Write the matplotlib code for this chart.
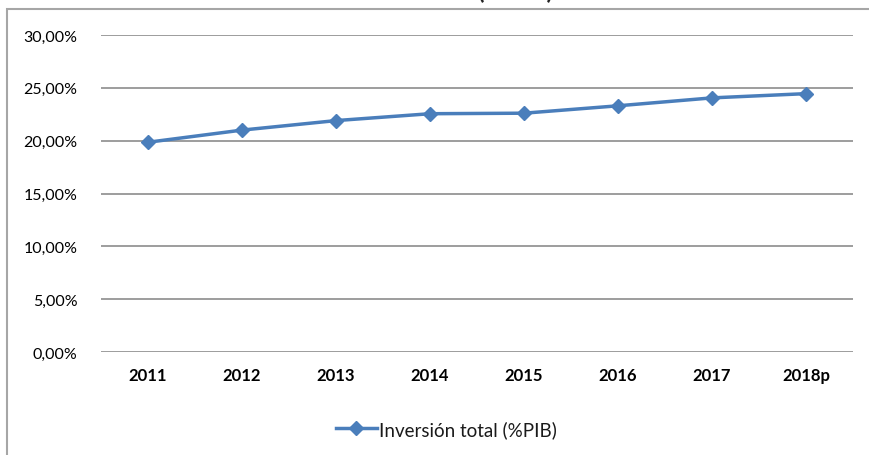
import matplotlib.pyplot as plt
from matplotlib.patches import Rectangle
from matplotlib.ticker import FuncFormatter

years = ['2011', '2012', '2013', '2014', '2015', '2016', '2017', '2018p']
inversion = [19.85, 21.0, 21.9, 22.55, 22.6, 23.3, 24.05, 24.45]
series_name = 'Inversión total (%PIB)'

plt.rcParams['font.family'] = ['Lato', 'DejaVu Sans']

W, H = 869, 456
fig = plt.figure(figsize=(W / 100, H / 100), dpi=100)

# outer chart border (clipped at right/bottom like the screenshot)
fig.patches.append(Rectangle((7 / W, -0.05), 1.0, 1 - 10 / H + 0.05,
                             transform=fig.transFigure, fill=False,
                             edgecolor='#a6a6a6', linewidth=1.5))
# title, almost entirely cut off at the top
fig.text(515 / W, 1 + 1 / H, '(% PIB)', ha='center', va='baseline',
         fontsize=17, fontweight='bold', color='#222222')

ax = fig.add_axes([101 / W, 1 - 353 / H, (853 - 101) / W, (353 - 36) / H])
x = range(len(years))
ax.plot(x, inversion, color='#4a7ebb', linewidth=2.5, marker='D',
        markersize=7, label=series_name)

ax.set_xlim(-0.5, len(years) - 0.5)
ax.set_ylim(0, 30)
ax.set_yticks([0, 5, 10, 15, 20, 25, 30])
ax.yaxis.set_major_formatter(FuncFormatter(lambda v, p: f'{v:.2f}%'.replace('.', ',')))
ax.set_xticks(list(x))
ax.set_xticklabels(years, fontweight='bold')
ax.grid(axis='y', color='#8c8c8c', linewidth=1.2)
ax.set_axisbelow(True)
for s in ax.spines.values():
    s.set_visible(False)
ax.tick_params(length=0, colors='#000000')
ax.tick_params(axis='y', pad=17, labelsize=11.5)
ax.tick_params(axis='x', pad=11, labelsize=12)

fig.legend(loc='center', bbox_to_anchor=(446 / W, 1 - 430 / H), frameon=False,
           fontsize=13.5, handlelength=2.2, handletextpad=0.1,
           labelcolor='#1a1a1a')

fig.savefig('out.png', dpi=100)
